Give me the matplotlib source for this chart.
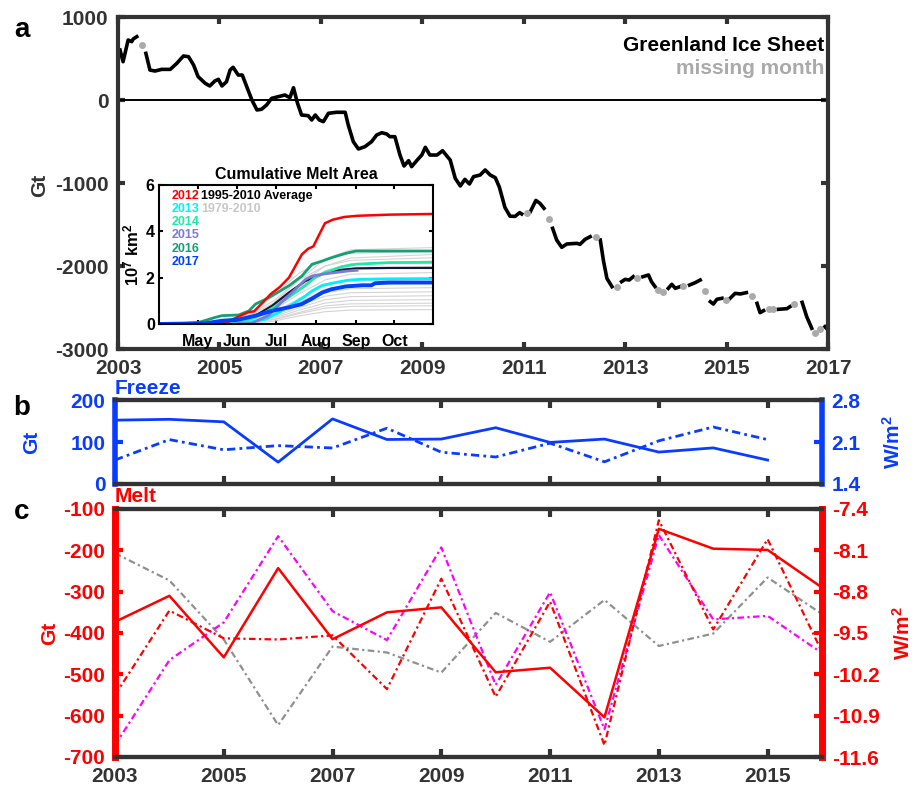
import numpy as np
import matplotlib.pyplot as plt

plt.rcParams['font.family'] = ['Liberation Sans', 'DejaVu Sans']
plt.rcParams['font.weight'] = 'bold'
plt.rcParams['axes.titleweight'] = 'bold'
plt.rcParams['axes.labelweight'] = 'bold'
plt.rcParams['axes.unicode_minus'] = False
plt.rcParams['mathtext.fontset'] = 'custom'
plt.rcParams['mathtext.rm'] = 'Liberation Sans:bold'
plt.rcParams['mathtext.it'] = 'Liberation Sans:bold'
plt.rcParams['mathtext.bf'] = 'Liberation Sans:bold'

# --- a: Greenland mass anomaly (Gt), None = gap in the record
gis_year = [2003.04, 2003.10, 2003.20, 2003.27, 2003.30, 2003.37, None,
            2003.55, 2003.63, 2003.73, 2003.86, 2004.03, 2004.16, 2004.29, 2004.39, 2004.49,
            2004.58, 2004.72, 2004.81, 2004.91, 2004.98, 2005.05, 2005.14, 2005.21, 2005.27,
            2005.37, 2005.45, 2005.54, 2005.64, 2005.74, 2005.83, 2005.93, 2006.03, 2006.16,
            2006.29, 2006.39, 2006.46, 2006.54, 2006.62, 2006.75, 2006.82, 2006.89, 2006.97,
            2007.05, 2007.15, 2007.31, 2007.48, 2007.54, 2007.64, 2007.74, 2007.87, 2008.00,
            2008.10, 2008.20, 2008.30, 2008.36, 2008.46, 2008.56, 2008.64, 2008.73, 2008.79,
            2008.90, 2008.99, 2009.06, 2009.15, 2009.29, 2009.40, 2009.55, 2009.65, 2009.75,
            2009.84, 2009.93, 2010.01, 2010.14, 2010.24, 2010.34, 2010.44, 2010.52, 2010.57,
            2010.63, 2010.73, 2010.83, 2010.92, 2010.96, None,
            2011.13, 2011.24, 2011.32, 2011.40, None,
            2011.57, 2011.65, 2011.75, 2011.85, 2012.05, 2012.11, 2012.21, 2012.31, None,
            2012.51, 2012.57, 2012.64, 2012.74, None,
            2012.93, 2013.00, 2013.08, 2013.16, None,
            2013.35, 2013.46, 2013.52, 2013.59, None,
            2013.85, 2013.92, 2013.99, 2014.08, None,
            2014.27, 2014.38, 2014.48, None,
            2014.68, 2014.74, 2014.81, 2014.91, None,
            2015.07, 2015.17, 2015.27, 2015.39, None,
            2015.60, 2015.66, 2015.73, None,
            2016.02, 2016.19, 2016.25, None,
            2016.49, 2016.58, 2016.68, None,
            2016.94, 2017.01]
gis_mass = [602, 461, 723, 703, 735, 763, None,
            562, 361, 349, 369, 369, 442, 530, 522, 422,
            281, 201, 169, 229, 249, 169, 221, 361, 394,
            301, 301, 160, 0, -120, -112, -60, 20, 40,
            60, 28, 148, -40, -181, -189, -241, -181, -241,
            -261, -160, -148, -148, -301, -502, -590, -562, -502,
            -422, -394, -410, -442, -442, -663, -795, -731, -803,
            -723, -663, -570, -663, -663, -611, -723, -944, -1036,
            -956, -1012, -924, -904, -843, -904, -936, -1050, -1160,
            -1295, -1400, -1402, -1357, -1373, None,
            -1346, -1210, -1245, -1305, None,
            -1546, -1687, -1775, -1735, -1727, -1739, -1679, -1647, None,
            -1687, -1928, -2149, -2249, None,
            -2189, -2161, -2169, -2129, None,
            -2129, -2108, -2189, -2249, None,
            -2269, -2221, -2269, -2249, None,
            -2229, -2201, -2169, None,
            -2430, -2458, -2401, -2389, None,
            -2389, -2329, -2337, -2321, None,
            -2450, -2562, -2538, None,
            -2522, -2514, -2490, None,
            -2438, -2610, -2751, None,
            -2731, -2779]
miss_year = [2003.47, 2011.06, 2011.49, 2012.42, 2012.84, 2013.24, 2013.64, 2013.74,
             2014.15, 2014.58, 2014.99, 2015.50, 2015.83, 2015.91, 2016.33, 2016.75, 2016.85]
miss_mass = [663, -1365, -1434, -1647, -2249, -2141, -2289, -2318,
             -2237, -2297, -2410, -2357, -2522, -2522, -2462, -2811, -2759]

# --- inset: cumulative melt area (10^7 km^2) vs day of year
day_2012 = [91, 130, 145, 152, 160, 165, 172, 178, 185, 192, 197, 202, 207, 211, 215, 220, 226, 235, 245, 270, 304]
val_2012 = [0, 0.02, 0.1, 0.3, 0.5, 0.55, 0.95, 1.3, 1.6, 2.0, 2.5, 3.0, 3.25, 3.35, 3.8, 4.35, 4.5, 4.62, 4.67, 4.72, 4.75]
day_2013 = [91, 150, 160, 174, 184, 197, 205, 210, 218, 228, 238, 248, 270, 304]
val_2013 = [0, 0.02, 0.07, 0.21, 0.5, 0.93, 1.22, 1.43, 1.67, 1.79, 1.89, 1.93, 1.95, 1.96]
day_2014 = [91, 150, 153, 166, 176, 186, 197, 205, 212, 220, 233, 244, 270, 304]
val_2014 = [0, 0.03, 0.07, 0.29, 0.57, 0.93, 1.36, 1.67, 2.0, 2.22, 2.47, 2.58, 2.65, 2.66]
day_2015 = [91, 150, 163, 176, 186, 197, 205, 210, 218, 228, 238, 245]
val_2015 = [0, 0.0, 0.03, 0.36, 0.93, 1.5, 1.93, 2.07, 2.15, 2.22, 2.29, 2.32]
day_2016 = [91, 110, 122, 135, 140, 153, 161, 166, 174, 181, 192, 202, 210, 218, 225, 236, 244, 270, 304]
val_2016 = [0, 0.02, 0.07, 0.29, 0.36, 0.39, 0.57, 0.86, 1.07, 1.29, 1.65, 2.07, 2.58, 2.72, 2.86, 3.05, 3.15, 3.15, 3.15]
day_2017 = [91, 127, 140, 153, 166, 179, 192, 202, 210, 218, 225, 236, 249, 256, 259, 270, 304]
val_2017 = [0, 0.03, 0.14, 0.19, 0.36, 0.57, 0.72, 0.86, 1.1, 1.36, 1.5, 1.62, 1.67, 1.67, 1.76, 1.79, 1.79]
day_avg = [91, 140, 153, 166, 179, 192, 205, 218, 231, 244, 270, 304]
val_avg = [0, 0.02, 0.1, 0.36, 0.79, 1.36, 1.86, 2.15, 2.33, 2.40, 2.42, 2.42]

day_clim = [91, 140, 160, 180, 200, 220, 240, 304]
val_clim = [
    [0, 0.05, 0.30, 0.90, 1.90, 2.80, 3.20, 3.30],
    [0, 0.10, 0.40, 1.20, 2.20, 2.80, 3.05, 3.15],
    [0, 0.05, 0.25, 0.80, 1.70, 2.50, 2.85, 3.00],
    [0, 0.08, 0.35, 1.00, 1.90, 2.50, 2.75, 2.86],
    [0, 0.05, 0.20, 0.70, 1.50, 2.30, 2.60, 2.72],
    [0, 0.04, 0.25, 0.80, 1.60, 2.20, 2.40, 2.47],
    [0, 0.03, 0.20, 0.60, 1.30, 1.90, 2.15, 2.22],
    [0, 0.03, 0.15, 0.50, 1.10, 1.65, 1.87, 1.93],
    [0, 0.02, 0.10, 0.40, 0.90, 1.50, 1.70, 1.76],
    [0, 0.02, 0.12, 0.45, 0.95, 1.35, 1.52, 1.57],
    [0, 0.02, 0.10, 0.35, 0.80, 1.20, 1.35, 1.39],
    [0, 0.01, 0.08, 0.30, 0.70, 1.05, 1.18, 1.22],
    [0, 0.01, 0.06, 0.25, 0.60, 0.90, 1.02, 1.05],
    [0, 0.01, 0.05, 0.20, 0.50, 0.78, 0.87, 0.90],
    [0, 0.01, 0.04, 0.18, 0.45, 0.68, 0.76, 0.79],
    [0, 0.01, 0.03, 0.12, 0.35, 0.53, 0.60, 0.62],
]
month_day = [121, 152, 182, 213, 244, 274]
month_lab = ['May', 'Jun', 'Jul', 'Aug', 'Sep', 'Oct']

# --- b: freeze
b_year = [2003, 2004, 2005, 2006, 2007, 2008, 2009, 2010, 2011, 2012, 2013, 2014, 2015]
freeze_gt = [152, 154, 148, 52, 155, 106, 107, 134, 99, 107, 76, 86, 57]
freeze_wm2 = [1.80, 2.14, 1.97, 2.04, 2.00, 2.33, 1.93, 1.85, 2.08, 1.77, 2.12, 2.35, 2.14]

# --- c: melt
c_year = [2003, 2004, 2005, 2006, 2007, 2008, 2009, 2010, 2011, 2012, 2013, 2014, 2015, 2016]
melt_gt = [-373, -310, -459, -243, -415, -350, -338, -495, -484, -604, -148, -196, -199, -290]
melt_red = [-10.55, -9.12, -9.59, -9.61, -9.54, -10.45, -8.58, -10.58, -8.97, -11.40, -7.59, -9.44, -7.91, -9.82]
melt_mag = [-11.40, -9.96, -9.32, -7.86, -9.13, -9.62, -8.05, -10.38, -8.81, -11.13, -7.84, -9.27, -9.21, -9.84]
melt_grey = [-8.15, -8.61, -9.61, -11.06, -9.73, -9.83, -10.17, -9.16, -9.65, -8.94, -9.72, -9.51, -8.56, -9.18]

DARK = '#333333'
BLUE = '#0a3cff'
RED = '#ff0000'
W, H = 918, 788
dd = (0, (3, 1.5, 1, 1.5))  # matlab-like dash-dot


def box(x0, y0, x1, y1):
    return [x0 / W, 1 - y1 / H, (x1 - x0) / W, (y1 - y0) / H]


fig = plt.figure(figsize=(9.18, 7.88), dpi=100)

# ---------------- panel a
ax_a = fig.add_axes(box(118, 17, 828, 349))
ax_a.plot(np.array(gis_year, dtype=float), np.array(gis_mass, dtype=float), color='k', lw=2.6)
ax_a.plot(miss_year, miss_mass, 'o', color='#aaaaaa', ms=5, mec='none')
ax_a.axhline(0, color='k', lw=1.4)
ax_a.set_xlim(2003, 2017)
ax_a.set_ylim(-3000, 1000)
ax_a.set_xticks([2003, 2005, 2007, 2009, 2011, 2013, 2015, 2017])
ax_a.set_yticks([-3000, -2000, -1000, 0, 1000])
ax_a.tick_params(direction='in', top=True, right=True, length=5, width=3, colors=DARK,
                 labelsize=15, pad=7)
for s in ax_a.spines.values():
    s.set_linewidth(3)
    s.set_color(DARK)
ax_a.text(0.995, 0.915, 'Greenland Ice Sheet', transform=ax_a.transAxes, ha='right', va='center',
          fontsize=15, color='k')
ax_a.text(0.995, 0.845, 'missing month', transform=ax_a.transAxes, ha='right', va='center',
          fontsize=15, color='#aaaaaa')

# ---------------- inset
ax_in = fig.add_axes(box(159, 185, 433, 324))
for row in val_clim:
    ax_in.plot(day_clim, row, color='#d4d4d4', lw=0.8)
ax_in.plot(day_avg, val_avg, color='#15153a', lw=1.6)
ax_in.plot(day_2013, val_2013, color='#00f0ff', lw=2)
ax_in.plot(day_2014, val_2014, color='#1eeaa6', lw=2)
ax_in.plot(day_2015, val_2015, color='#7a7ad8', lw=2)
ax_in.plot(day_2016, val_2016, color='#14a070', lw=2)
ax_in.plot(day_2012, val_2012, color=RED, lw=1.8)
ax_in.plot(day_2017, val_2017, color='#0040ff', lw=2.8)
ax_in.set_xlim(91, 304)
ax_in.set_ylim(0, 6)
ax_in.set_xticks(month_day)
ax_in.set_xticklabels(month_lab)
ax_in.set_yticks([0, 2, 4, 6])
ax_in.tick_params(direction='in', top=True, right=True, length=3, width=1.5, labelsize=11.5, pad=3)
ax_in.tick_params(axis='x', pad=7)
for s in ax_in.spines.values():
    s.set_linewidth(1.5)
ax_in.set_title('Cumulative Melt Area', fontsize=11.5, fontweight='bold', pad=4)
ax_in.set_ylabel(r'10$^7$ km$^2$', fontsize=12, fontweight='bold', labelpad=3)
leg = [('2012', RED, 0.921), ('2013', '#00f0ff', 0.827), ('2014', '#1eeaa6', 0.734),
       ('2015', '#7a7ad8', 0.640), ('2016', '#14a070', 0.540), ('2017', '#0040ff', 0.446)]
for txt, col, yy in leg:
    ax_in.text(0.047, yy, txt, color=col, transform=ax_in.transAxes, fontsize=9, va='center')
ax_in.text(0.154, 0.921, '1995-2010 Average', color='k', transform=ax_in.transAxes, fontsize=9, va='center')
ax_in.text(0.154, 0.827, '1979-2010', color='#c8c8c8', transform=ax_in.transAxes, fontsize=9, va='center')

# ---------------- panel b
ax_b = fig.add_axes(box(115, 400, 822, 484))
ax_b2 = ax_b.twinx()
ax_b.plot(b_year, freeze_gt, color=BLUE, lw=2)
ax_b2.plot(b_year, freeze_wm2, color=BLUE, lw=2, ls=dd)
ax_b.set_xlim(2003, 2016)
ax_b.set_ylim(0, 200)
ax_b.set_yticks([0, 100, 200])
ax_b2.set_ylim(1.4, 2.8)
ax_b2.set_yticks([1.4, 2.1, 2.8])
ax_b2.set_yticklabels(['1.4', '2.1', '2.8'])
ax_b.set_xticks([2003, 2005, 2007, 2009, 2011, 2013, 2015])
ax_b.tick_params(axis='x', direction='in', top=True, length=6, width=3, color=DARK, labelbottom=False)
ax_b.tick_params(axis='y', direction='in', length=6, width=3, color=BLUE, labelcolor=BLUE,
                 labelsize=15, pad=7)
ax_b2.tick_params(axis='y', direction='in', length=6, width=3, color=BLUE, labelcolor=BLUE,
                  labelsize=15, pad=7)
for ax in (ax_b, ax_b2):
    for k, s in ax.spines.items():
        s.set_linewidth(3)
        s.set_color(DARK)
ax_b.spines['left'].set_color(BLUE)
ax_b.spines['left'].set_linewidth(4)
ax_b.spines['right'].set_visible(False)
ax_b2.spines['right'].set_color(BLUE)
ax_b2.spines['right'].set_linewidth(4)
ax_b2.spines['left'].set_visible(False)

# ---------------- panel c
ax_c = fig.add_axes(box(115, 509, 822, 757))
ax_c2 = ax_c.twinx()
ax_c2.plot(c_year, melt_grey, color='#909090', lw=1.6, ls=dd)
ax_c2.plot(c_year, melt_mag, color='#ff00ff', lw=1.6, ls=dd)
ax_c2.plot(c_year, melt_red, color=RED, lw=1.6, ls=dd)
ax_c.plot(c_year, melt_gt, color=RED, lw=1.8)
ax_c.set_zorder(ax_c2.get_zorder() + 1)
ax_c.patch.set_visible(False)
ax_c.set_xlim(2003, 2016)
ax_c.set_ylim(-700, -100)
ax_c.set_yticks([-700, -600, -500, -400, -300, -200, -100])
ax_c2.set_ylim(-11.6, -7.4)
ax_c2.set_yticks([-11.6, -10.9, -10.2, -9.5, -8.8, -8.1, -7.4])
ax_c2.set_yticklabels(['-11.6', '-10.9', '-10.2', '-9.5', '-8.8', '-8.1', '-7.4'])
ax_c.set_xticks([2003, 2005, 2007, 2009, 2011, 2013, 2015])
ax_c.tick_params(axis='x', direction='in', top=True, length=6, width=3, color=DARK,
                 labelcolor=DARK, labelsize=15, pad=7)
ax_c.tick_params(axis='y', direction='in', length=6, width=3, color=RED, labelcolor=RED,
                 labelsize=15, pad=7)
ax_c2.tick_params(axis='y', direction='in', length=6, width=3, color=RED, labelcolor=RED,
                  labelsize=15, pad=7)
for ax in (ax_c, ax_c2):
    for k, s in ax.spines.items():
        s.set_linewidth(3)
        s.set_color(DARK)
ax_c.spines['left'].set_color(RED)
ax_c.spines['left'].set_linewidth(5)
ax_c.spines['right'].set_visible(False)
ax_c2.spines['right'].set_color(RED)
ax_c2.spines['right'].set_linewidth(5)
ax_c2.spines['left'].set_visible(False)

# ---------------- labels
fig.text(22 / W, 1 - 30 / H, 'a', fontsize=20, ha='center', va='center')
fig.text(22 / W, 1 - 408 / H, 'b', fontsize=20, ha='center', va='center')
fig.text(22 / W, 1 - 512 / H, 'c', fontsize=20, ha='center', va='center')
fig.text(40 / W, 1 - 185 / H, 'Gt', fontsize=15, color=DARK, rotation=90, ha='center', va='center')
fig.text(32 / W, 1 - 442 / H, 'Gt', fontsize=15, color=BLUE, rotation=90, ha='center', va='center')
fig.text(50 / W, 1 - 633 / H, 'Gt', fontsize=15, color=RED, rotation=90, ha='center', va='center')
fig.text(893 / W, 1 - 442 / H, 'W/m$^2$', fontsize=15, color=BLUE, rotation=90, ha='center', va='center')
fig.text(903 / W, 1 - 633 / H, 'W/m$^2$', fontsize=15, color=RED, rotation=90, ha='center', va='center')
fig.text(115 / W, 1 - 388 / H, 'Freeze', fontsize=15, color=BLUE, ha='left', va='center')
fig.text(115 / W, 1 - 497 / H, 'Melt', fontsize=15, color=RED, ha='left', va='center')

fig.savefig('out.png', dpi=100)
